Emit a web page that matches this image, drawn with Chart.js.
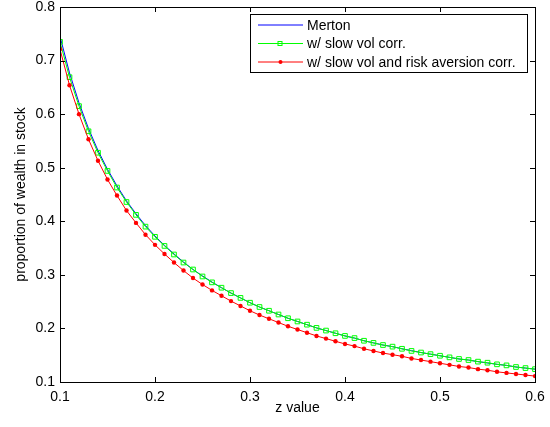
<!DOCTYPE html>
<html>
<head>
<meta charset="utf-8">
<script src="https://cdn.jsdelivr.net/npm/chart.js@4"></script>
<style>
html, body { margin: 0; padding: 0; background: #fff; }
</style>
</head>
<body>
<canvas id="chart" width="550" height="427"></canvas>
<script>
// z の値
const zValues = [0.10, 0.11, 0.12, 0.13, 0.14, 0.15, 0.16, 0.17, 0.18, 0.19,
    0.20, 0.21, 0.22, 0.23, 0.24, 0.25, 0.26, 0.27, 0.28, 0.29,
    0.30, 0.31, 0.32, 0.33, 0.34, 0.35, 0.36, 0.37, 0.38, 0.39,
    0.40, 0.41, 0.42, 0.43, 0.44, 0.45, 0.46, 0.47, 0.48, 0.49,
    0.50, 0.51, 0.52, 0.53, 0.54, 0.55, 0.56, 0.57, 0.58, 0.59, 0.60];
// Merton
const merton = [0.745, 0.677, 0.621, 0.573, 0.532, 0.497, 0.466, 0.438, 0.414, 0.392,
    0.3725, 0.355, 0.339, 0.324, 0.310, 0.298, 0.2865, 0.276, 0.266, 0.257,
    0.248, 0.240, 0.233, 0.226, 0.219, 0.213, 0.207, 0.201, 0.196, 0.191,
    0.186, 0.182, 0.177, 0.173, 0.169, 0.166, 0.162, 0.1585, 0.155, 0.152,
    0.149, 0.146, 0.143, 0.141, 0.138, 0.1355, 0.133, 0.131, 0.128, 0.126, 0.124];
// w/ slow vol corr.
const slowVol = [0.735, 0.669, 0.615, 0.568, 0.528, 0.494, 0.463, 0.436, 0.412, 0.390,
    0.371, 0.354, 0.338, 0.323, 0.310, 0.297, 0.286, 0.276, 0.266, 0.257,
    0.248, 0.240, 0.233, 0.226, 0.219, 0.213, 0.207, 0.201, 0.196, 0.191,
    0.186, 0.182, 0.177, 0.173, 0.169, 0.166, 0.162, 0.158, 0.155, 0.152,
    0.149, 0.146, 0.143, 0.141, 0.138, 0.136, 0.133, 0.131, 0.128, 0.126, 0.124];
// w/ slow vol and risk aversion corr.
const slowVolRisk = [0.721, 0.654, 0.600, 0.553, 0.513, 0.478, 0.448, 0.420, 0.397, 0.375,
    0.356, 0.339, 0.323, 0.308, 0.294, 0.282, 0.271, 0.261, 0.251, 0.242,
    0.233, 0.225, 0.218, 0.211, 0.204, 0.198, 0.192, 0.186, 0.181, 0.176,
    0.171, 0.167, 0.162, 0.158, 0.154, 0.151, 0.148, 0.144, 0.141, 0.138,
    0.135, 0.132, 0.129, 0.127, 0.124, 0.122, 0.119, 0.117, 0.115, 0.113, 0.111];
// 目盛り
const xTicks = [0.1, 0.2, 0.3, 0.4, 0.5, 0.6];
const yTicks = [0.1, 0.2, 0.3, 0.4, 0.5, 0.6, 0.7, 0.8];

const FONT = 'Helvetica, "Liberation Sans", Arial, sans-serif';

function toPoints(values) {
    return zValues.map((z, i) => ({ x: z, y: values[i] }));
}

// MATLAB風の枠・内向き目盛り・凡例
const matlabAxes = {
    id: 'matlabAxes',
    afterDraw(chart) {
        const ctx = chart.ctx;
        const { left, right, top, bottom } = chart.chartArea;
        const xs = chart.scales.x;
        const ys = chart.scales.y;
        const tl = 5;
        ctx.save();
        ctx.strokeStyle = '#000';
        ctx.lineWidth = 1;
        ctx.beginPath();
        xTicks.forEach(v => {
            const px = Math.round(xs.getPixelForValue(v)) + 0.5;
            ctx.moveTo(px, bottom); ctx.lineTo(px, bottom - tl);
            ctx.moveTo(px, top); ctx.lineTo(px, top + tl);
        });
        yTicks.forEach(v => {
            const py = Math.round(ys.getPixelForValue(v)) + 0.5;
            ctx.moveTo(left, py); ctx.lineTo(left + tl, py);
            ctx.moveTo(right, py); ctx.lineTo(right - tl, py);
        });
        ctx.stroke();
        ctx.strokeRect(Math.round(left) + 0.5, Math.round(top) + 0.5,
            Math.round(right - left), Math.round(bottom - top));

        // 凡例
        const bx = 250.5, by = 14.5, bw = 277, bh = 58;
        ctx.fillStyle = '#fff';
        ctx.fillRect(bx, by, bw, bh);
        ctx.strokeRect(bx, by, bw, bh);
        ctx.font = '14px ' + FONT;
        ctx.textBaseline = 'middle';
        const rows = [25, 43.5, 62];
        chart.data.datasets.forEach((ds, i) => {
            const y = rows[i];
            ctx.strokeStyle = ds.borderColor;
            ctx.lineWidth = 1;
            ctx.beginPath();
            ctx.moveTo(258, y); ctx.lineTo(303, y);
            ctx.stroke();
            if (ds.pointStyle === 'rect') {
                ctx.strokeRect(278, y - 2, 4, 4);
            } else if (ds.pointRadius > 0) {
                ctx.fillStyle = ds.pointBackgroundColor;
                ctx.beginPath();
                ctx.arc(280.5, y, 2, 0, Math.PI * 2);
                ctx.fill();
            }
            ctx.fillStyle = '#000';
            ctx.fillText(ds.label, 307, y + 1);
        });
        ctx.restore();
    }
};

new Chart(document.getElementById('chart').getContext('2d'), {
    type: 'line',
    data: {
        datasets: [{
            label: 'Merton',
            data: toPoints(merton),
            borderColor: '#0000ff',
            borderWidth: 1,
            pointRadius: 0,
            order: 2
        }, {
            label: 'w/ slow vol corr.',
            data: toPoints(slowVol),
            borderColor: '#00ff00',
            borderWidth: 1,
            pointStyle: 'rect',
            pointRadius: 3.3,
            pointBorderWidth: 1,
            pointBorderColor: '#00ff00',
            pointBackgroundColor: 'rgba(0,0,0,0)',
            order: 1
        }, {
            label: 'w/ slow vol and risk aversion corr.',
            data: toPoints(slowVolRisk),
            borderColor: '#ff0000',
            borderWidth: 1,
            pointStyle: 'circle',
            pointRadius: 2.2,
            pointBorderWidth: 0,
            pointBackgroundColor: '#ff0000',
            order: 0
        }]
    },
    options: {
        responsive: false,
        animation: false,
        layout: { padding: { top: 7, right: 15, left: 0, bottom: 0 } },
        plugins: {
            legend: { display: false },
            tooltip: { enabled: false }
        },
        scales: {
            x: {
                type: 'linear',
                min: 0.1,
                max: 0.6,
                afterBuildTicks: s => { s.ticks = xTicks.map(v => ({ value: v })); },
                afterFit: s => { s.height = 45; s.paddingLeft = 0; s.paddingRight = 0; },
                grid: { display: false, drawTicks: false },
                border: { display: false },
                ticks: {
                    color: '#000',
                    padding: 7,
                    font: { family: FONT, size: 14 },
                    callback: v => v.toFixed(1)
                },
                title: {
                    display: true,
                    text: 'z value',
                    color: '#000',
                    font: { family: FONT, size: 14 },
                    padding: { top: 0, bottom: 10 }
                }
            },
            y: {
                min: 0.1,
                max: 0.8,
                afterBuildTicks: s => { s.ticks = yTicks.map(v => ({ value: v })); },
                afterFit: s => { s.width = 60; s.paddingTop = 0; s.paddingBottom = 0; },
                grid: { display: false, drawTicks: false },
                border: { display: false },
                ticks: {
                    color: '#000',
                    padding: 5,
                    font: { family: FONT, size: 14 },
                    callback: v => v.toFixed(1)
                },
                title: {
                    display: true,
                    text: 'proportion of wealth in stock',
                    color: '#000',
                    font: { family: FONT, size: 14 },
                    padding: { top: 13, bottom: 0 }
                }
            }
        }
    },
    plugins: [matlabAxes]
});
</script>
</body>
</html>
